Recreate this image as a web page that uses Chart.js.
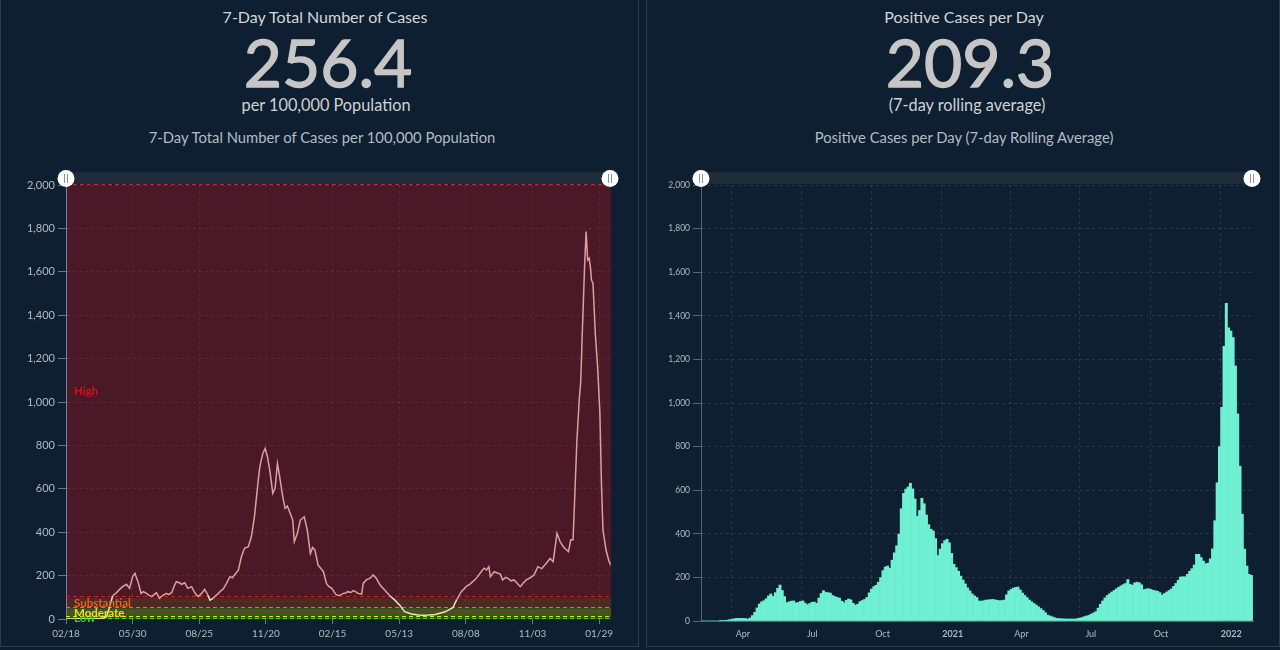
<!DOCTYPE html>
<html><head><meta charset="utf-8">
<script src="https://cdn.jsdelivr.net/npm/chart.js@4.4.1/dist/chart.umd.min.js"></script>
<style>
html,body{margin:0;padding:0;background:#0d1e2e;width:1280px;height:650px;overflow:hidden;font-family:Lato,'Open Sans',sans-serif;}
.panel{position:absolute;top:-1px;height:648px;border:1px solid #2e3b48;background:#0d1f30;box-sizing:border-box;}
#p1{left:0;width:639px;}
#p2{left:646px;width:634px;}
.t{position:absolute;transform:translateX(-50%);white-space:nowrap;line-height:1;}
.ttl{font-size:16px;color:#d4d6d8;top:9px;}
.big{font-size:66px;font-weight:400;color:#c6c6c6;top:29px;-webkit-text-stroke:1.3px #c6c6c6;}
.sub{font-size:16.3px;color:#d0d2d4;top:97px;}
.cap{font-size:14.8px;color:#b4bcc4;top:130px;}
canvas{position:absolute;}
</style></head>
<body>
<div class="panel" id="p1"></div>
<div class="panel" id="p2"></div>
<div class="t ttl" style="left:325px">7-Day Total Number of Cases</div>
<div class="t big" style="left:328px">256.4</div>
<div class="t sub" style="left:326px">per 100,000 Population</div>
<div class="t cap" style="left:322px">7-Day Total Number of Cases per 100,000 Population</div>
<div class="t ttl" style="left:964px">Positive Cases per Day</div>
<div class="t big" style="left:970px">209.3</div>
<div class="t sub" style="left:967px">(7-day rolling average)</div>
<div class="t cap" style="left:964px">Positive Cases per Day (7-day Rolling Average)</div>
<div style="position:absolute;left:10px;top:165px;width:620px;height:478px"><canvas id="c1" width="620" height="478" style="left:0;top:0"></canvas></div>
<div style="position:absolute;left:650px;top:165px;width:620px;height:480px"><canvas id="c2" width="620" height="480" style="left:0;top:0"></canvas></div>
<script>
// ---------- data (days counted from 2020-01-01) ----------
const leftTickDays = [63,150,237,324,411,498,585,672,759];
const leftTickLabels = ['02/18','05/30','08/25','11/20','02/15','05/13','08/08','11/03','01/29'];
const leftDays = [64,80,95,107,112,116,120,124,128,131,134,137,142,146,150,153,157,161,164,168,171,175,178,181,185,189,194,197,201,204,207,211,214,218,222,227,230,233,236,240,244,248,251,255,258,262,265,268,272,277,280,283,288,292,296,301,305,309,314,316,318,320,323,326,329,333,336,339,342,346,349,352,354,359,361,365,369,374,378,382,385,388,392,396,399,403,406,410,413,416,420,425,428,431,435,438,441,444,449,451,455,460,464,468,473,479,486,492,499,505,514,523,529,537,545,558,568,573,579,583,586,590,594,598,602,606,609,612,615,617,622,626,630,633,637,640,644,648,652,656,660,664,669,674,679,684,690,695,699,704,708,711,714,719,722,725,727,730,733,735,737,740,742,744,746,748,749,751,754,757,760,762,764,768,772,773];
const leftValues = [0,1,1,2,5,11,57,107,118,129,140,149,160,141,195,210,172,118,126,118,110,103,112,121,95,108,118,112,121,150,172,167,160,167,141,149,128,111,104,118,137,112,87,95,106,118,130,137,161,195,190,203,225,287,326,333,379,471,640,700,733,763,786,748,686,579,602,717,655,563,510,520,502,456,356,394,456,471,410,302,330,318,249,232,218,164,150,141,125,111,108,118,120,126,122,131,126,118,115,164,180,188,203,188,157,134,106,88,62,34,23,18,17,18,21,33,52,88,126,140,152,160,172,185,203,222,234,226,241,195,218,212,207,180,192,187,176,180,165,149,166,180,190,203,241,232,257,279,264,395,357,340,326,311,365,365,548,824,1009,1094,1316,1623,1785,1654,1662,1608,1562,1547,1316,1163,948,625,410,318,264,256.4];
const bandNames = ['Low','Moderate','Substantial','High'];
const bandLimits = [0,10,50,100,2000];

const rightTickDays = [91,182,274,366,456,547,639,731];
const rightTickLabels = ['Apr','Jul','Oct','2021','Apr','Jul','Oct','2022'];
const rightStartDay = 52, rightStepDays = 3;
const rightValues = [
0,0,0,0,0,0,0,0,1,2,
3,4,6,8,10,12,12,12,12,11,
9,14,25,40,60,78,88,93,102,115,
124,113,130,150,165,140,112,84,88,91,
92,83,85,90,92,82,75,80,86,87,
81,105,126,139,132,130,128,117,112,108,
105,91,84,95,101,97,81,73,77,89,
94,99,108,129,146,158,164,178,199,231,
248,252,242,279,313,345,399,515,585,605,
615,632,606,560,480,507,563,538,486,442,
421,413,378,300,330,355,369,375,359,310,
260,245,228,206,188,170,152,138,124,115,
108,92,91,93,96,97,98,99,97,95,
93,94,96,120,138,145,151,154,156,142,
128,117,107,96,88,80,73,65,57,48,
38,27,23,19,15,12,11,10,10,9,
9,9,9,9,11,13,16,20,23,26,
32,37,43,59,77,92,106,117,125,133,
140,148,155,161,167,172,190,168,164,175,
178,175,166,144,147,148,145,141,139,136,
130,119,126,133,140,147,159,172,187,202,
203,203,214,228,240,257,306,306,291,275,
263,265,285,331,460,634,800,980,1260,1457,
1345,1330,1300,1170,950,710,490,330,252,214,209.3];
const rightDays = rightValues.map((_, i) => rightStartDay + i * rightStepDays);

// ---------- styles ----------
const bandFill = ['#2d5a1f','#45541f','#4e2a25','#4a1826'];
const bandLine = ['#3ed41a','#e4e41c','#e8741c','#d21e28'];
const bandText = ['#34d41a','#e2e21a','#e8601a','#d40f18'];
const tickColor = '#b3bac1';

Chart.defaults.font.family = "Lato, 'Open Sans', sans-serif";
Chart.defaults.animation = false;

function drawSlider(chart){
  const {ctx, chartArea:a} = chart;
  ctx.save();
  ctx.fillStyle = '#1e2b38';
  ctx.fillRect(a.left, a.top - 13, a.right - a.left, 12);
  const cy = a.top - 6.5;
  [a.left, a.right - 1].forEach(cx => {
    ctx.beginPath(); ctx.arc(cx, cy, 8.5, 0, Math.PI*2);
    ctx.fillStyle = '#ffffff'; ctx.fill();
    ctx.strokeStyle = '#8d9299'; ctx.lineWidth = 1;
    ctx.beginPath();
    ctx.moveTo(cx - 1.5, cy - 4.5); ctx.lineTo(cx - 1.5, cy + 4.5);
    ctx.moveTo(cx + 1.5, cy - 4.5); ctx.lineTo(cx + 1.5, cy + 4.5);
    ctx.stroke();
  });
  ctx.restore();
}

const bandsPlugin = {
  id: 'bands',
  beforeDraw(chart){
    const {ctx, chartArea:a, scales:{y}} = chart;
    ctx.save();
    for (let i = 0; i < bandNames.length; i++){
      const y1 = y.getPixelForValue(bandLimits[i+1]);
      const y0 = y.getPixelForValue(bandLimits[i]);
      ctx.fillStyle = bandFill[i];
      ctx.fillRect(a.left, y1, a.right - a.left, y0 - y1);
    }
    ctx.restore();
  },
  beforeDatasetsDraw(chart){
    const {ctx, chartArea:a, scales:{y}} = chart;
    ctx.save();
    ctx.setLineDash([4,3]); ctx.lineWidth = 1.2;
    const lines = bandLimits.map((v, i) => [v, bandLine[Math.min(i, bandNames.length - 1)]]);
    lines.forEach(([v, c]) => {
      const py = Math.round(y.getPixelForValue(v)) - 0.5;
      ctx.strokeStyle = c; ctx.beginPath();
      ctx.moveTo(a.left, py); ctx.lineTo(a.right, py); ctx.stroke();
    });
    ctx.restore();
  },
  afterDatasetsDraw(chart){
    const {ctx, chartArea:a, scales:{y}} = chart;
    ctx.save();
    ctx.font = "bold 11.5px Lato, 'Open Sans', sans-serif";
    ctx.textBaseline = 'middle'; ctx.textAlign = 'left';
    for (let i = 0; i < bandNames.length; i++){
      const mid = (bandLimits[i] + bandLimits[i+1]) / 2;
      ctx.fillStyle = bandText[i];
      ctx.fillText(bandNames[i], a.left + 8, y.getPixelForValue(mid) + 0.5);
    }
    ctx.restore();
  },
  afterDraw: drawSlider
};

new Chart(document.getElementById('c1'), {
  type: 'line',
  data: { datasets: [{
    data: leftDays.map((d, i) => ({x: d, y: leftValues[i]})),
    borderWidth: 1.5, pointRadius: 0, tension: 0, fill: false,
    borderColor: '#e19e9f',
    segment: { borderColor: c => ((c.p0.parsed.y + c.p1.parsed.y) / 2 < 100 ? '#e2e9ae' : '#e19e9f') }
  }]},
  plugins: [bandsPlugin],
  options: {
    responsive: false, devicePixelRatio: 1,
    layout: { padding: { top: 20, right: 19, left: 0, bottom: 0 } },
    plugins: { legend: {display:false}, tooltip: {enabled:false} },
    scales: {
      x: {
        type: 'linear', min: 63, max: 774.5,
        afterBuildTicks: s => { s.ticks = leftTickDays.map(v => ({value: v})); },
        afterFit: s => { s.height = 24; },
        ticks: { autoSkip: false, maxRotation: 0, padding: 4, color: tickColor, font: {size: 10},
          callback: v => leftTickLabels[leftTickDays.indexOf(v)] },
        grid: { color: 'rgba(255,255,255,0.07)', tickColor: '#6b7580', tickLength: 5, drawTicks: true },
        border: { display: false, dash: [3,3] }
      },
      y: {
        min: 0, max: 2000,
        afterFit: s => { s.width = 56; },
        ticks: { stepSize: 200, padding: 3, color: tickColor, font: {size: 11},
          callback: v => v.toLocaleString('en-US') },
        grid: { color: 'rgba(255,255,255,0.08)', tickColor: '#6b7580', tickLength: 8 },
        border: { display: true, color: '#7b848d', width: 1, dash: [3,3] }
      }
    }
  }
});

new Chart(document.getElementById('c2'), {
  type: 'bar',
  data: { datasets: [{
    data: rightDays.map((d, i) => ({x: d, y: rightValues[i]})),
    backgroundColor: '#6ff0d2', borderWidth: 0,
    barPercentage: 1, categoryPercentage: 1
  }]},
  plugins: [{ id: 'slider', afterDraw: drawSlider }],
  options: {
    responsive: false, devicePixelRatio: 1,
    layout: { padding: { top: 20, right: 17, left: 0, bottom: 0 } },
    plugins: { legend: {display:false}, tooltip: {enabled:false} },
    scales: {
      x: {
        type: 'linear', min: 50.5, max: 774, offset: false,
        afterBuildTicks: s => { s.ticks = rightTickDays.map(v => ({value: v})); },
        afterFit: s => { s.height = 24; },
        ticks: { autoSkip: false, maxRotation: 0, padding: 4, labelOffset: 11, color: tickColor,
          font: c => ({ size: 9, weight: (c.tick && /^\d{4}$/.test(c.tick.label)) ? 'bold' : 'normal' }),
          callback: v => rightTickLabels[rightTickDays.indexOf(v)] },
        grid: { color: 'rgba(255,255,255,0.11)', tickColor: 'rgba(0,0,0,0)', tickLength: 4, offset: false },
        border: { display: true, color: '#59646f', width: 1, dash: [3,3] }
      },
      y: {
        min: 0, max: 2000,
        afterFit: s => { s.width = 51; },
        ticks: { stepSize: 200, padding: 3, color: tickColor, font: {size: 8.5},
          callback: v => v.toLocaleString('en-US') },
        grid: { color: 'rgba(255,255,255,0.11)', tickColor: '#59646f', tickLength: 8 },
        border: { display: true, color: '#59646f', width: 1, dash: [3,3] }
      }
    }
  }
});
</script>
</body></html>
